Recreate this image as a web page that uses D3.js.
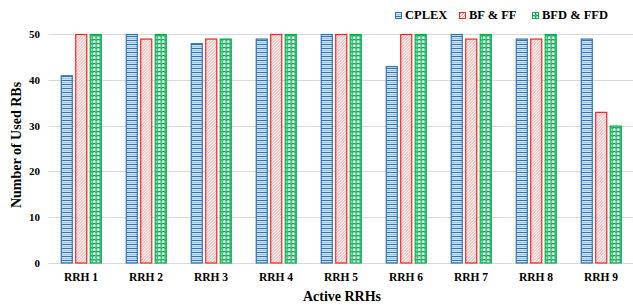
<!DOCTYPE html>
<html>
<head>
<meta charset="utf-8">
<script src="https://cdn.jsdelivr.net/npm/d3@7"></script>
<style>
  body { margin: 0; background: #fff; }
  text { font-family: "Liberation Serif", "Times New Roman", serif; font-weight: bold; fill: #000; }
</style>
</head>
<body>
<div id="chart"></div>
<script>
!(function(){
    "use strict"

    var categories = ["RRH 1", "RRH 2", "RRH 3", "RRH 4", "RRH 5", "RRH 6", "RRH 7", "RRH 8", "RRH 9"]
    var seriesNames = ["CPLEX", "BF & FF", "BFD & FFD"]
    var cplex = [41, 50, 48, 49, 50, 43, 50, 49, 49]
    var bfff = [50, 49, 49, 50, 50, 50, 49, 49, 33]
    var bfdffd = [50, 50, 49, 50, 50, 50, 50, 50, 30]
    var yTicks = [0, 10, 20, 30, 40, 50]

    var width = 633, height = 305
    var margin = {top:34, left:48.5, bottom:42, right:0}

    var svg = d3.select("#chart").append("svg")
        .attr("width", width).attr("height", height)

    var defs = svg.append("defs")

    // blue horizontal stripes
    var pBlue = defs.append("pattern").attr("id", "pat-0")
        .attr("patternUnits", "userSpaceOnUse").attr("width", 4).attr("height", 4)
    pBlue.append("rect").attr("width", 4).attr("height", 4).attr("fill", "#fff")
    pBlue.append("rect").attr("y", 0).attr("width", 4).attr("height", 1.1).attr("fill", "#2e75b6")
    pBlue.append("rect").attr("y", 1.7).attr("width", 4).attr("height", 1.8).attr("fill", "#9dc3e6")

    // red diagonal hatch
    var pRed = defs.append("pattern").attr("id", "pat-1")
        .attr("patternUnits", "userSpaceOnUse").attr("width", 3).attr("height", 3)
    pRed.append("rect").attr("width", 3).attr("height", 3).attr("fill", "#fff")
    pRed.append("path").attr("d", "M-1,1 L1,-1 M0,3 L3,0 M2,4 L4,2")
        .attr("stroke", "#ff8080").attr("stroke-width", 0.9)

    // green grid
    var pGreen = defs.append("pattern").attr("id", "pat-2")
        .attr("patternUnits", "userSpaceOnUse").attr("width", 4).attr("height", 4)
    pGreen.append("rect").attr("width", 4).attr("height", 4).attr("fill", "#00b050")
    pGreen.append("rect").attr("x", 0.4).attr("y", 0.4).attr("width", 2.6).attr("height", 2.6).attr("fill", "#fff")
    pGreen.append("rect").attr("x", 3.2).attr("y", 3.2).attr("width", 0.8).attr("height", 0.8).attr("fill", "#8fd9ae")

    var strokes = ["#2e75b6", "#ff2020", "#00b050"]
    var values = [cplex, bfff, bfdffd]

    var chartHeight = height - margin.top - margin.bottom

    var x0 = d3.scaleBand().domain(categories).range([margin.left, margin.left + 585])
    var x1 = d3.scaleBand().domain(seriesNames).range([12.25, 53.25]).paddingInner(0.17)
    var y = d3.scaleLinear().domain([0, 50]).range([margin.top + chartHeight, margin.top])

    // grid lines
    svg.append("g").selectAll("line")
        .data(yTicks)
        .enter().append("line")
        .attr("x1", margin.left).attr("x2", width)
        .attr("y1", function(d) { return Math.round(y(d)) + 0.5 })
        .attr("y2", function(d) { return Math.round(y(d)) + 0.5 })
        .attr("stroke", "#d9d9d9").attr("stroke-width", 1)

    // y axis labels
    var yAxis = d3.axisLeft(y).tickValues(yTicks).tickSize(0).tickPadding(0)
    var yG = svg.append("g").attr("transform", "translate(40,0)").call(yAxis)
    yG.select(".domain").remove()
    yG.selectAll("text").style("font-size", "11px").style("font-family", "Liberation Serif").attr("fill", "#000")

    // x axis labels
    var xAxis = d3.axisBottom(x0).tickSize(0).tickPadding(10)
    var xG = svg.append("g").attr("transform", "translate(0," + y(0) + ")").call(xAxis)
    xG.select(".domain").remove()
    xG.selectAll("text").style("font-size", "11.5px").style("font-family", "Liberation Serif").attr("fill", "#000")

    // bars
    var groups = svg.append("g").selectAll("g")
        .data(categories)
        .enter().append("g")
        .attr("transform", function(d) { return "translate(" + x0(d) + ",0)" })

    groups.selectAll("rect")
        .data(function(d, i) {
            return seriesNames.map(function(s, j) { return {s: s, j: j, v: values[j][i]} })
        })
        .enter().append("rect")
        .attr("x", function(d) { return x1(d.s) + 0.5 })
        .attr("y", function(d) { return y(d.v) + 0.5 })
        .attr("width", x1.bandwidth() - 1)
        .attr("height", function(d) { return y(0) - y(d.v) - 0.5 })
        .attr("fill", function(d) { return "url(#pat-" + d.j + ")" })
        .attr("stroke", function(d) { return strokes[d.j] })
        .attr("stroke-width", 1.2)

    // legend
    var legendX = [395, 459, 532]
    var legend = svg.append("g").selectAll("g")
        .data(seriesNames)
        .enter().append("g")
        .attr("transform", function(d, i) { return "translate(" + legendX[i] + ",12)" })
    legend.append("rect")
        .attr("x", 0.5).attr("y", 0.5).attr("width", 6).attr("height", 6)
        .attr("fill", function(d, i) { return "url(#pat-" + i + ")" })
        .attr("stroke", function(d, i) { return strokes[i] })
        .attr("stroke-width", 1)
    legend.append("text")
        .attr("x", 10).attr("y", 6.8)
        .style("font-size", "12.5px")
        .text(function(d) { return d })

    // axis titles
    svg.append("text")
        .attr("x", 342).attr("y", 301)
        .attr("text-anchor", "middle")
        .style("font-size", "14px")
        .text("Active RRHs")

    svg.append("text")
        .attr("transform", "translate(21,145) rotate(-90)")
        .attr("text-anchor", "middle")
        .style("font-size", "14px")
        .text("Number of Used RBs")
}());
</script>
</body>
</html>
